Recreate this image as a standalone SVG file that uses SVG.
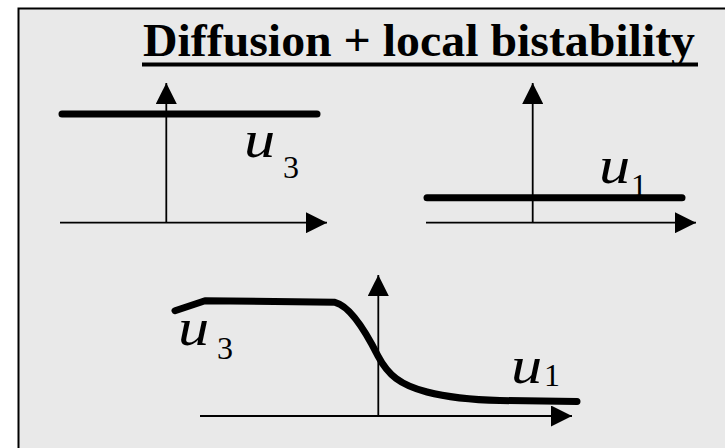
<svg xmlns="http://www.w3.org/2000/svg" width="725" height="448" viewBox="0 0 725 448">
<defs>
<marker id="ah" viewBox="0 0 21 21" refX="21" refY="10.5" markerWidth="21" markerHeight="21" markerUnits="userSpaceOnUse" orient="auto">
<path d="M0,0 L21,10.5 L0,21 Z" fill="#000"/>
</marker>
<style>
.axis{stroke:#000;stroke-width:1.8;fill:none;marker-end:url(#ah)}
.thick{stroke:#000;stroke-width:7;fill:none;stroke-linecap:round;stroke-linejoin:round}
.u{font-family:"Liberation Serif",serif;font-style:italic;font-size:52px;fill:#000}
.sub{font-family:"Liberation Serif",serif;font-size:32px;fill:#000}
.title{font-family:"Liberation Serif",serif;font-weight:bold;font-size:47px;fill:#000}
</style>
</defs>
<rect x="0" y="0" width="725" height="448" fill="#fff"/>
<rect x="18.5" y="8.5" width="720" height="450" fill="#e9e9e9" stroke="#000" stroke-width="2"/>
<g id="title">
<text class="title" x="143" y="56" textLength="552" lengthAdjust="spacingAndGlyphs">Diffusion + local bistability</text>
<rect x="142" y="62.5" width="556" height="4" fill="#000"/>
</g>
<g id="connectors">
<line class="axis" x1="166.3" y1="222.7" x2="166.3" y2="83"/>
<line class="axis" x1="60" y1="222.7" x2="327" y2="222.7"/>
<line class="axis" x1="532.7" y1="222.7" x2="532.7" y2="83"/>
<line class="axis" x1="426" y1="222.7" x2="696" y2="222.7"/>
<line class="axis" x1="378.3" y1="416" x2="378.3" y2="275"/>
<line class="axis" x1="200" y1="416" x2="572" y2="416"/>
</g>
<g id="plot-u3">
<line class="thick" x1="62" y1="114" x2="317" y2="114"/>
<text class="u" transform="translate(244,157) scale(1.2,1)">u</text>
<text class="sub" x="283" y="178">3</text>
</g>
<g id="plot-u1">
<text class="u" transform="translate(599,183) scale(1.2,1)">u</text>
<text class="sub" x="631" y="196">1</text>
<line class="thick" x1="427" y1="197.7" x2="682" y2="197.7"/>
</g>
<g id="plot-front">
<path class="thick" d="M175,310.7 L205,300.7 L335,302.3 C350,306 365,330 378,356 C388,375 400,385 427,392 C450,398 480,400 500,400.5 L577,401.5"/>
<text class="u" transform="translate(178,345) scale(1.2,1)">u</text>
<text class="sub" x="217" y="359">3</text>
<text class="u" transform="translate(511,383) scale(1.2,1)">u</text>
<text class="sub" x="544" y="386">1</text>
</g>
</svg>
